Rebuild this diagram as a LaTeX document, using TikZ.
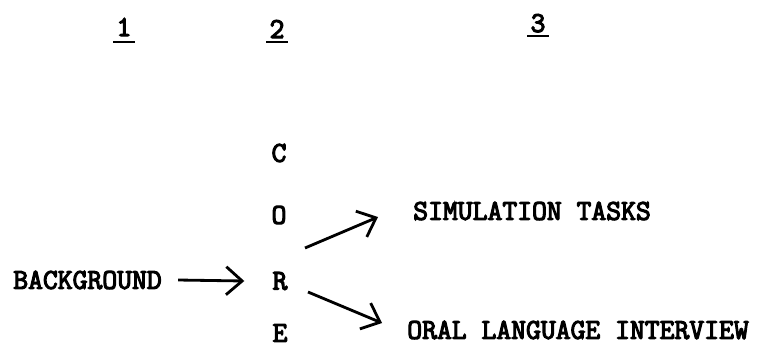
\documentclass[tikz,border=0pt]{standalone}
\usepackage{fontspec}
\newfontfamily\typer[FakeBold=4]{Latin Modern Mono}
\usetikzlibrary{arrows.meta}
\tikzset{
  txt/.style={inner sep=0pt,font=\typer\fontsize{20.5}{22}\selectfont},
  uline/.style={line width=2pt},
  arr/.style={line width=2pt,-{Straight Barb[length=4mm,width=7mm]}}
}
\begin{document}
\begin{tikzpicture}[x=0.025cm,y=-0.025cm]
\useasboundingbox (0,0) rectangle (768,350);
\node[txt,anchor=base] (col1) at (124,36) {1};
\node[txt,anchor=base] (col2) at (277,38) {2};
\node[txt,anchor=base] (col3) at (538,32) {3};
\draw[uline] ([shift={(-11,6)}]col1.base) -- ([shift={(11,6)}]col1.base);
\draw[uline] ([shift={(-11,4)}]col2.base) -- ([shift={(11,4)}]col2.base);
\draw[uline] ([shift={(-11,4)}]col3.base) -- ([shift={(11,4)}]col3.base);

\node[txt] (C) at (279,153) {C};
\node[txt] (O) at (279,215) {O};
\node[txt] (R) at (280,281) {R};
\node[txt] (E) at (280,333) {E};

\node[txt,anchor=west] (bg) at (13,280) {BACKGROUND};
\node[txt,anchor=west] (sim) at (413,211) {SIMULATION TASKS};
\node[txt,anchor=west] (oral) at (407,330) {ORAL LANGUAGE INTERVIEW};

\draw[arr] ([shift={(16,0)}]bg.east) -- ([shift={(-28,0)}]R.west);
\draw[arr] ([shift={(25,-33)}]R.center) -- ([shift={(-35,6)}]sim.west);
\draw[arr] ([shift={(28,11)}]R.center) -- ([shift={(-25,-7)}]oral.west);
\end{tikzpicture}
\end{document}
